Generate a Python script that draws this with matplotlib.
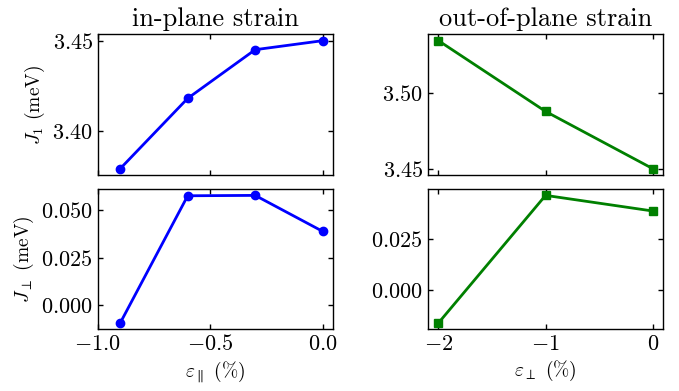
import matplotlib
matplotlib.use("Agg")
import matplotlib.pyplot as plt
from matplotlib.ticker import MultipleLocator

plt.rcParams["font.family"] = "serif"
plt.rcParams["font.serif"] = ["cmr10", "DejaVu Serif"]
plt.rcParams["mathtext.fontset"] = "cm"
plt.rcParams["axes.formatter.use_mathtext"] = True
plt.rcParams["axes.unicode_minus"] = True

# in-plane strain
eps_par = [-0.9, -0.6, -0.3, 0.0]
j1_par = [3.379, 3.418, 3.445, 3.450]
jperp_par = [-0.0092, 0.0573, 0.0575, 0.0387]

# out-of-plane strain
eps_perp = [-2, -1, 0]
j1_perp = [3.535, 3.488, 3.450]
jperp_perp = [-0.0159, 0.0462, 0.0386]

fig = plt.figure(figsize=(6.79, 3.91), dpi=100)
ax_tl = fig.add_axes([0.144, 0.5524, 0.346, 0.3599])
ax_bl = fig.add_axes([0.144, 0.1578, 0.346, 0.3588], sharex=ax_tl)
ax_tr = fig.add_axes([0.630, 0.5524, 0.347, 0.3599])
ax_br = fig.add_axes([0.630, 0.1578, 0.347, 0.3588], sharex=ax_tr)

line_kw = dict(lw=2, ms=6)
ax_tl.plot(eps_par, j1_par, "o-", color="blue", **line_kw)
ax_bl.plot(eps_par, jperp_par, "o-", color="blue", **line_kw)
ax_tr.plot(eps_perp, j1_perp, "s-", color="green", **line_kw)
ax_br.plot(eps_perp, jperp_perp, "s-", color="green", **line_kw)

for ax in (ax_tl, ax_bl, ax_tr, ax_br):
    ax.tick_params(direction="in", top=True, right=True, labelsize=16, width=1)
    for s in ax.spines.values():
        s.set_linewidth(1)

ax_tl.set_xlim(-1.0, 0.045)
ax_tl.xaxis.set_major_locator(MultipleLocator(0.5))
ax_tr.xaxis.set_major_locator(MultipleLocator(1))
ax_tl.tick_params(labelbottom=False)
ax_tr.tick_params(labelbottom=False)

ax_tl.yaxis.set_major_locator(MultipleLocator(0.05))
ax_tr.yaxis.set_major_locator(MultipleLocator(0.05))
ax_bl.yaxis.set_major_locator(MultipleLocator(0.025))
ax_br.yaxis.set_major_locator(MultipleLocator(0.025))
for ax in (ax_tl, ax_tr):
    ax.yaxis.set_major_formatter(plt.FormatStrFormatter("$%.2f$"))
for ax in (ax_bl, ax_br):
    ax.yaxis.set_major_formatter(plt.FormatStrFormatter("$%.3f$"))

ax_tl.set_title("in-plane strain", fontsize=19)
ax_tr.set_title("out-of-plane strain", fontsize=19)
ax_tl.set_ylabel("$J_1$ (meV)", fontsize=14)
ax_bl.set_ylabel(r"$J_\perp$ (meV)", fontsize=14)
ax_bl.set_xlabel(r"$\varepsilon_\parallel$ (%)", fontsize=14)
ax_br.set_xlabel(r"$\varepsilon_\perp$ (%)", fontsize=14)

fig.savefig("out.png", dpi=100)
